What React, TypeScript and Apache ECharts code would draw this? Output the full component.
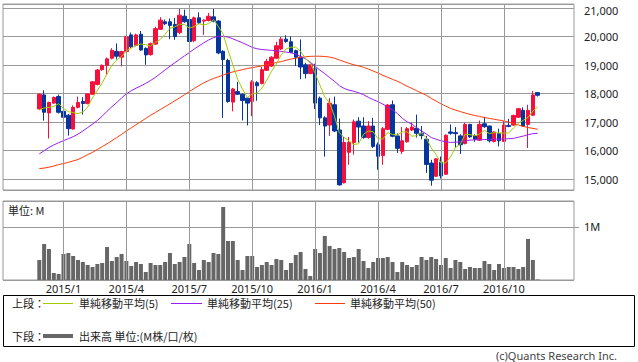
import React, { useEffect, useRef } from "react";
import * as echarts from "echarts";

// ---- data (weekly, from the week of 2014/12/1) ----
const PAD = 7; // empty weeks before / after the data on the axis
const FIRST_WEEK = Date.UTC(2014, 11, 1);

const opens = [17459,17954,17321,17666,17896,17379,17241,16758,17517,17724,
  17655,17977,18322,18839,18988,19241,19482,19276,19471,20057,
  19689,20080,19586,19367,19735,20253,20517,20517,20425,20138,
  20712,20597,19850,20655,20540,20563,20689,20540,19482,19161,
  17701,18069,17977,17839,17724,18379,18356,18816,18965,19241,
  19563,19908,19816,19505,19276,19011,18701,18873,17839,17149,
  16896,17609,16724,14873,15942,16287,17034,16862,16460,16862,
  16207,15827,16747,17609,16517,15977,16310,16724,16781,16609,
  16402,15563,15103,15597,15172,16655,16632,16517,16253,16919,
  16517,16368,16942,16862,16322,16597,16322,16885,16896,17172,
  17413,16919,17241,18034];
const closes = [17977,17345,17689,17862,17345,17172,16770,17517,17689,17655,
  17988,18413,18827,18988,19218,19517,19310,19471,19988,19643,
  20057,19528,19356,19747,20275,20574,20448,20390,20000,20747,
  20517,19827,20655,20482,20574,20712,20540,19425,19195,17724,
  18161,17977,17758,17666,18413,18276,18839,19126,19276,19678,
  19908,19827,19448,19276,18931,18701,19011,17666,17149,16862,
  17666,16689,14800,16287,16287,17011,16827,16460,16862,16149,
  15804,16770,17597,16505,16080,16345,16770,16827,16609,16528,
  15517,14965,15712,15115,16540,16609,16597,16207,16919,16482,
  16402,16919,16839,16345,16655,16345,16896,16850,17230,17471,
  16862,17413,17954,17942];
const lows = [17420,17050,16425,17640,17300,16528,16528,16740,17480,17264,
  17620,17950,18290,18800,18666,19200,19200,18954,19440,19600,
  19650,19500,19011,19330,19700,20230,20400,19908,19885,20080,
  20480,19069,19800,20440,20057,20530,20500,19380,17149,17680,
  17379,17950,17057,16885,17207,17747,18320,18790,18930,19210,
  19530,19780,19420,18965,18505,18528,18680,17459,16896,15793,
  16517,16650,14780,14850,15505,15862,16287,16420,16420,16092,
  15333,15505,16720,16470,15919,15885,16280,16690,16460,16400,
  15218,14770,15080,15023,15150,16560,16100,15885,16220,16450,
  16310,16340,16800,16287,16290,16149,16300,16820,16870,17150,
  16840,16092,17220,17896];
const highs = [18010,18115,17720,17900,17965,17420,17287,17586,17896,17873,
  18010,18440,18860,19023,19264,19590,19758,19500,20030,20138,
  20100,20195,19620,19790,20344,20678,20597,20632,20655,20965,
  20942,20640,20700,20850,20600,20827,20965,20580,19520,19218,
  18200,18413,18000,17870,18471,18436,18931,19218,19310,19816,
  19988,20046,20000,19540,19900,19080,19050,19045,17896,17207,
  17839,17896,17126,16482,16482,17092,17172,17172,17034,17149,
  16287,16827,17640,17758,16600,16827,16827,16977,17264,16862,
  16517,15678,15740,15793,16570,16919,16827,16574,16977,16942,
  16574,17057,17184,16880,16680,16770,17034,17115,17264,17500,
  17517,17609,18092,18046];

// volume in millions
const volumes = [0.377,0.679,0.585,0.132,0.113,0.491,0.509,0.453,0.377,0.340,
  0.283,0.245,0.302,0.321,0.623,0.358,0.434,0.491,0.358,0.264,
  0.340,0.302,0.151,0.321,0.283,0.283,0.340,0.509,0.302,0.340,
  0.434,0.679,0.321,0.189,0.377,0.340,0.509,0.491,1.377,0.736,
  0.736,0.377,0.189,0.453,0.453,0.245,0.283,0.340,0.283,0.396,
  0.377,0.189,0.321,0.472,0.528,0.208,0.075,0.585,0.509,0.830,
  0.642,0.585,0.604,0.528,0.415,0.434,0.585,0.358,0.226,0.340,
  0.415,0.415,0.434,0.340,0.151,0.340,0.283,0.245,0.283,0.434,
  0.377,0.434,0.396,0.283,0.415,0.226,0.377,0.340,0.208,0.245,
  0.226,0.226,0.358,0.302,0.189,0.302,0.226,0.245,0.245,0.208,
  0.245,0.774,0.377,0.010];

// MA5 of the first four weeks (needs earlier closes)
const ma5Head = [17436, 17494, 17517, 17551];
const ma25 = [15885,16000,16110,16200,16280,16350,16420,16490,16580,16690,
  16810,16930,17060,17210,17380,17540,17680,17850,17990,18100,
  18190,18270,18360,18460,18570,18700,18830,18960,19080,19200,
  19320,19440,19560,19670,19780,19880,19960,20010,20010,19980,
  19920,19850,19780,19700,19620,19570,19545,19530,19515,19500,
  19480,19455,19430,19380,19300,19220,19100,18960,18820,18700,
  18560,18430,18280,18180,18120,18080,18030,17960,17870,17790,
  17720,17630,17530,17430,17300,17140,17010,16930,16800,16690,
  16580,16460,16400,16345,16310,16290,16295,16310,16340,16370,
  16380,16385,16390,16395,16400,16405,16410,16420,16430,16470,
  16510,16560,16595,16610];
const ma50 = [15370,15390,15420,15460,15510,15550,15590,15640,15690,15770,
  15860,15940,16040,16140,16240,16350,16460,16570,16690,16800,
  16910,17020,17130,17240,17340,17440,17540,17640,17750,17850,
  17960,18070,18180,18280,18380,18460,18530,18590,18650,18710,
  18760,18800,18840,18880,18910,18940,18970,19010,19050,19090,
  19120,19170,19210,19240,19270,19290,19305,19310,19310,19300,
  19280,19240,19180,19120,19060,19010,18970,18920,18860,18790,
  18720,18640,18570,18500,18430,18350,18260,18180,18100,18020,
  17940,17830,17740,17640,17560,17480,17420,17370,17320,17270,
  17230,17200,17160,17130,17100,17070,17040,17000,16950,16900,
  16850,16810,16780,16750];

// x tick marks: week index of each quarter start, and their labels
const tickWeeks = [5, 18, 31, 44, 57, 70, 83, 96];
const tickLabels = ["2015/1", "2015/4", "2015/7", "2015/10", "2016/1", "2016/4", "2016/7", "2016/10"];

// ---- derived ----
const N = opens.length;
const TOTAL = N + 2 * PAD;
const categories: string[] = [];
for (let k = 0; k < TOTAL; k++) {
  const d = new Date(FIRST_WEEK + (k - PAD) * 7 * 86400000);
  categories.push(`${d.getUTCFullYear()}/${d.getUTCMonth() + 1}/${d.getUTCDate()}`);
}
const labelAt: Record<number, string> = {};
tickWeeks.forEach((w, j) => { labelAt[w + PAD] = tickLabels[j]; });

const ma5 = closes.map((_, i) => {
  if (i < 4) return ma5Head[i];
  let s = 0;
  for (let k = i - 4; k <= i; k++) s += closes[k];
  return Math.round(s / 5);
});

const UP = "#f5103c";
const DOWN = "#07359e";
const GRID = "#999999";
const FONT = "'Noto Sans', sans-serif";
const JFONT = "'Noto Sans CJK JP', sans-serif";

export default function App() {
  const ref = useRef<HTMLDivElement>(null);
  useEffect(() => {
    if (!ref.current) return;
    const chart = echarts.init(ref.current, undefined, { renderer: "svg" });
    const vLines = tickWeeks.map((w) => ({ xAxis: categories[w + PAD] }));
    const markLine = {
      silent: true,
      symbol: ["none", "none"],
      label: { show: false },
      lineStyle: { color: GRID, width: 1, type: "solid" },
      emphasis: { disabled: true },
      data: vLines,
    };
    const pair = (arr: number[]) => arr.map((v, i) => [i + PAD, v]);
    const txt = (x: number, y: number, text: string, font = JFONT, align = "left", fill = "#222") => ({
      type: "text", x, y,
      style: { text, font: `11px ${font}`, fill, textAlign: align, verticalAlign: "middle", textVerticalAlign: "middle", lineHeight: 10 },
    });
    const option: any = {
      animation: false,
      backgroundColor: "#ffffff",
      textStyle: { fontFamily: FONT },
      grid: [
        { left: 3, top: 1, width: 571, height: 189, show: true, borderColor: GRID, borderWidth: 1 },
        { left: 3, top: 201, width: 571, height: 79, show: true, borderColor: GRID, borderWidth: 1 },
      ],
      xAxis: [
        {
          type: "category", gridIndex: 0, data: categories, boundaryGap: true,
          axisLine: { show: false }, axisTick: { show: false }, axisLabel: { show: false }, splitLine: { show: false },
        },
        {
          type: "category", gridIndex: 1, data: categories, boundaryGap: true,
          axisLine: { show: false }, axisTick: { show: false }, splitLine: { show: false },
          axisLabel: {
            interval: (idx: number) => labelAt[idx] !== undefined,
            formatter: (_v: string, idx: number) => labelAt[idx] ?? "",
            margin: 3, fontSize: 11, color: "#222", fontFamily: FONT,
          },
        },
      ],
      yAxis: [
        {
          type: "value", gridIndex: 0, position: "right", min: 14621, max: 21138, splitNumber: 6,
          axisLine: { show: false }, axisTick: { show: false },
          axisLabel: {
            margin: 10, fontSize: 11, lineHeight: 9, color: "#222", fontFamily: FONT,
            showMinLabel: false, showMaxLabel: false,
            formatter: (v: number) => {
              const r = Math.round(v);
              if (r % 1000 !== 0) return "";
              const s = r.toLocaleString("en-US");
              return r === 21000 ? `{top|${s}}` : s;
            },
            rich: { top: { fontSize: 11, lineHeight: 9, color: "#222", fontFamily: FONT, padding: [5, 0, 0, 0] } },
          },
          splitLine: { show: true, lineStyle: { color: GRID, width: 1 } },
        },
        {
          type: "value", gridIndex: 1, position: "right", min: 0, max: 1.49, interval: 1,
          axisLine: { show: false },
          axisTick: { show: true, length: 5, lineStyle: { color: GRID } },
          axisLabel: {
            margin: 10, fontSize: 11, color: "#222", fontFamily: FONT,
            showMinLabel: false, showMaxLabel: false,
            formatter: (v: number) => (v === 1 ? "1M" : ""),
          },
          splitLine: { show: true, lineStyle: { color: GRID, width: 1 } },
        },
      ],
      series: [
        { type: "line", xAxisIndex: 0, yAxisIndex: 0, data: [], z: 1, silent: true, markLine },
        { type: "line", xAxisIndex: 1, yAxisIndex: 1, data: [], z: 1, silent: true, markLine },
        {
          type: "candlestick", xAxisIndex: 0, yAxisIndex: 0, barWidth: 4, z: 2,
          dimensions: ["x", "open", "close", "lowest", "highest"],
          encode: { x: 0, y: [1, 2, 3, 4] },
          data: opens.map((o, i) => [i + PAD, o, closes[i], lows[i], highs[i]]),
          itemStyle: { color: UP, color0: DOWN, borderColor: UP, borderColor0: DOWN, borderWidth: 1 },
        },
        {
          type: "line", xAxisIndex: 0, yAxisIndex: 0, data: pair(ma50), showSymbol: false, z: 3,
          lineStyle: { color: "#ff3a0a", width: 1 },
        },
        {
          type: "line", xAxisIndex: 0, yAxisIndex: 0, data: pair(ma25), showSymbol: false, z: 3,
          lineStyle: { color: "#9a1ef0", width: 1 },
        },
        {
          type: "line", xAxisIndex: 0, yAxisIndex: 0, data: pair(ma5), showSymbol: false, z: 3,
          lineStyle: { color: "#a0cc00", width: 1 },
        },
        {
          type: "bar", xAxisIndex: 1, yAxisIndex: 1, data: pair(volumes), barWidth: 4, z: 2,
          itemStyle: { color: "#666666" },
        },
      ],
      graphic: [
        txt(8, 210, "単位: M"),
        { type: "rect", shape: { x: 3.5, y: 295.5, width: 631, height: 51 }, style: { fill: "none", stroke: "#000", lineWidth: 1 } },
        txt(12, 303, "上段："),
        { type: "line", shape: { x1: 43, y1: 303.5, x2: 73, y2: 303.5 }, style: { stroke: "#a0cc00", lineWidth: 1 } },
        txt(79, 303, "単純移動平均(5)"),
        { type: "line", shape: { x1: 171, y1: 303.5, x2: 202, y2: 303.5 }, style: { stroke: "#9a1ef0", lineWidth: 1 } },
        txt(207, 303, "単純移動平均(25)"),
        { type: "line", shape: { x1: 315, y1: 303.5, x2: 345, y2: 303.5 }, style: { stroke: "#ff3a0a", lineWidth: 1 } },
        txt(350, 303, "単純移動平均(50)"),
        txt(12, 336, "下段："),
        { type: "line", shape: { x1: 43, y1: 336, x2: 73, y2: 336 }, style: { stroke: "#666666", lineWidth: 4 } },
        txt(79, 336, "出来高 単位:(M株/口/枚)"),
        txt(617, 355.5, "(c)Quants Research Inc.", FONT, "right", "#444"),
      ],
    };
    chart.setOption(option);
    return () => chart.dispose();
  }, []);
  return (
    <div
      ref={ref}
      style={{ position: "absolute", left: 0, top: 0, width: 638, height: 362, background: "#fff" }}
    />
  );
}
